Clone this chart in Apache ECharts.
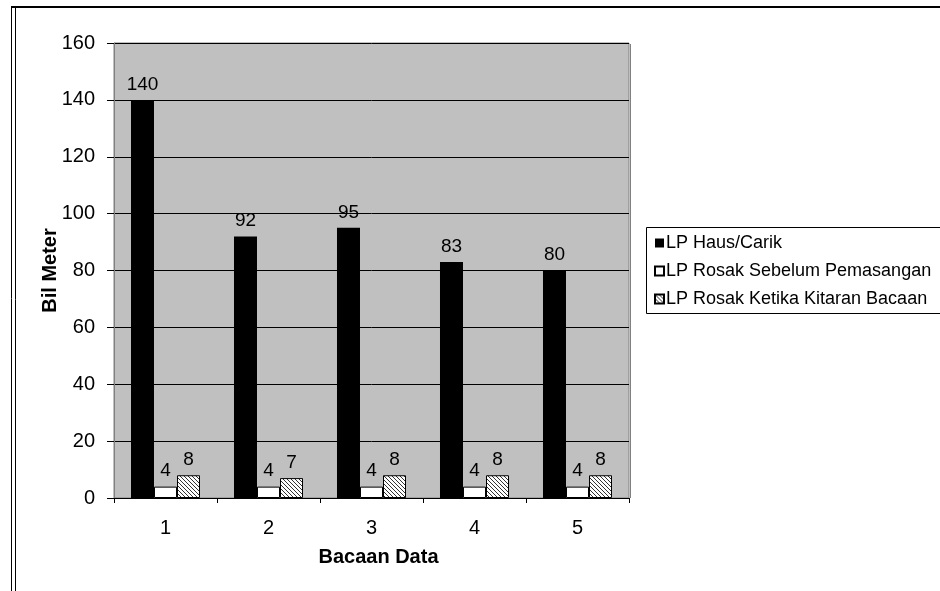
<!DOCTYPE html>
<html>
<head>
<meta charset="utf-8">
<script src="https://cdn.jsdelivr.net/npm/echarts@6/dist/echarts.min.js"></script>
<style>
  html, body { margin: 0; padding: 0; background: #fff; }
  #chart { width: 940px; height: 591px; }
</style>
</head>
<body>
<div id="chart"></div>
<script>
const categories = ["1", "2", "3", "4", "5"];
const hausCarik = [140, 92, 95, 83, 80];
const rosakSebelum = [4, 4, 4, 4, 4];
const rosakKetika = [8, 7, 8, 8, 8];
const seriesNames = ["LP Haus/Carik", "LP Rosak Sebelum Pemasangan", "LP Rosak Ketika Kitaran Bacaan"];

const FONT = "'Liberation Sans', Arial, sans-serif";

// hatch pattern (diagonal top-left -> bottom-right)
function makeHatch() {
  const c = document.createElement("canvas");
  c.width = 4;
  c.height = 4;
  const ctx = c.getContext("2d");
  ctx.fillStyle = "#fff";
  ctx.fillRect(0, 0, 4, 4);
  ctx.fillStyle = "#333";
  for (let i = 0; i < 4; i++) {
    ctx.fillRect(i, i, 1, 1);
  }
  return c;
}

const chart = echarts.init(document.getElementById("chart"));

const labelStyle = {
  show: true,
  position: "top",
  distance: 6,
  color: "#000",
  fontSize: 19,
  fontFamily: FONT
};

const option = {
  animation: false,
  textStyle: { fontFamily: FONT },
  grid: {
    left: 114,
    top: 43,
    right: 311,
    bottom: 93,
    show: true,
    backgroundColor: "#c0c0c0",
    borderColor: "#808080",
    borderWidth: 1
  },
  legend: {
    orient: "vertical",
    left: 649,
    top: 229,
    itemWidth: 9,
    itemHeight: 9,
    itemGap: 10,
    icon: "rect",
    textStyle: { fontSize: 18, color: "#000", fontFamily: FONT, lineHeight: 18, padding: [0, 0, 0, -3] },
    data: seriesNames
  },
  xAxis: {
    type: "category",
    data: categories,
    name: "Bacaan Data",
    nameLocation: "middle",
    nameGap: 49,
    nameTextStyle: { fontSize: 20, fontWeight: "bold", color: "#000", fontFamily: FONT, padding: [0, 0, 0, 14] },
    axisLine: { lineStyle: { color: "#000", width: 1 } },
    axisTick: { show: true, length: 5, lineStyle: { color: "#000" } },
    axisLabel: { color: "#000", fontSize: 20, margin: 20, fontFamily: FONT }
  },
  yAxis: {
    type: "value",
    min: 0,
    max: 160,
    interval: 20,
    name: "Bil Meter",
    nameLocation: "middle",
    nameGap: 54,
    nameMoveOverlap: false,
    nameTextStyle: { fontSize: 20, fontWeight: "bold", color: "#000", fontFamily: FONT },
    axisLine: { show: true, lineStyle: { color: "#808080" } },
    axisTick: { show: true, length: 7, lineStyle: { color: "#000" } },
    axisLabel: { color: "#000", fontSize: 20, margin: 19, fontFamily: FONT },
    splitLine: { lineStyle: { color: "#000", width: 1 } }
  },
  series: [
    {
      name: seriesNames[0],
      type: "bar",
      data: hausCarik,
      barGap: "0%",
      barCategoryGap: "33%",
      itemStyle: { color: "#000" },
      label: labelStyle
    },
    {
      name: seriesNames[1],
      type: "bar",
      data: rosakSebelum,
      itemStyle: { color: "#fff", borderColor: "#000", borderWidth: 1 },
      label: labelStyle
    },
    {
      name: seriesNames[2],
      type: "bar",
      data: rosakKetika,
      itemStyle: {
        color: { image: makeHatch(), repeat: "repeat" },
        borderColor: "#000",
        borderWidth: 1
      },
      label: labelStyle
    }
  ],
  graphic: [
    // outer frame
    { type: "line", shape: { x1: 11, y1: 7, x2: 940, y2: 7 }, style: { stroke: "#000", lineWidth: 2 } },
    { type: "line", shape: { x1: 11.5, y1: 6, x2: 11.5, y2: 591 }, style: { stroke: "#000", lineWidth: 1 } },
    { type: "line", shape: { x1: 15.5, y1: 8, x2: 15.5, y2: 591 }, style: { stroke: "#000", lineWidth: 1 } },
    // right shadow of plot area
    { type: "line", shape: { x1: 630.5, y1: 44, x2: 630.5, y2: 498 }, style: { stroke: "#808080", lineWidth: 1 } },
    // legend box
    { type: "rect", shape: { x: 646.5, y: 227.5, width: 300, height: 86 }, style: { fill: "none", stroke: "#000", lineWidth: 1 }, z: -1 }
  ]
};

chart.setOption(option);
</script>
</body>
</html>
